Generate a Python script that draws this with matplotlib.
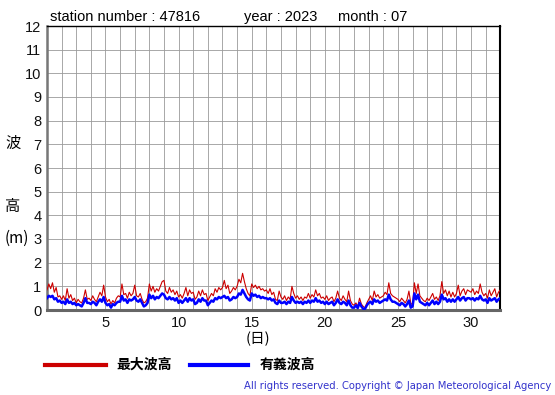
import numpy as np
import matplotlib
matplotlib.use("Agg")
import matplotlib.pyplot as plt
from matplotlib.lines import Line2D

# ---- data (3-hourly readings, July 2023) ----
station = "47816"
year = "2023"
month = "07"
step_hours = 3

max_wave = [
    0.85, 1.1, 0.9, 1.15, 0.75, 0.95, 0.55, 0.6,
    0.45, 0.6, 0.4, 0.9, 0.5, 0.65, 0.4, 0.5,
    0.3, 0.45, 0.35, 0.3, 0.5, 0.85, 0.45, 0.5,
    0.4, 0.6, 0.45, 0.35, 0.55, 0.75, 0.6, 1.05,
    0.55, 0.35, 0.45, 0.25, 0.4, 0.3, 0.5, 0.6,
    0.55, 1.1, 0.65, 0.7, 0.5, 0.75, 0.6, 0.7,
    1.05, 0.6, 0.55, 0.7, 0.45, 0.3, 0.35, 0.5,
    1.1, 0.8, 1.0, 0.75, 0.9, 0.8, 1.0, 1.2,
    1.25, 0.8, 0.7, 0.95, 0.75, 0.85, 0.65, 0.8,
    0.55, 0.65, 0.5, 0.7, 0.95, 0.6, 0.85, 0.7,
    0.75, 0.45, 0.55, 0.8, 0.6, 0.85, 0.65, 0.7,
    0.4, 0.55, 0.7, 0.6, 0.9, 0.75, 0.95, 0.85,
    0.95, 1.25, 0.9, 1.05, 0.7, 0.8, 0.95, 0.85,
    1.0, 1.3, 1.15, 1.55, 1.2, 0.9, 0.7, 0.6,
    1.1, 0.95, 1.05, 0.9, 1.0, 0.85, 0.9, 0.8,
    0.85, 0.7, 0.9, 0.65, 0.75, 0.45, 0.4, 0.8,
    0.55, 0.45, 0.6, 0.4, 0.55, 0.45, 1.0, 0.7,
    0.5, 0.6, 0.45, 0.55, 0.4, 0.55, 0.5, 0.7,
    0.5, 0.65, 0.55, 0.85, 0.6, 0.7, 0.5, 0.55,
    0.45, 0.6, 0.4, 0.5, 0.55, 0.35, 0.5, 0.8,
    0.5, 0.4, 0.6, 0.45, 0.35, 0.8, 0.4, 0.25,
    0.2, 0.3, 0.15, 0.5, 0.25, 0.15, 0.1, 0.3,
    0.45, 0.6, 0.4, 0.8, 0.55, 0.65, 0.5, 0.55,
    0.6, 0.75, 0.65, 1.15, 0.7, 0.6, 0.55, 0.5,
    0.45, 0.35, 0.5, 0.4, 0.3, 0.45, 0.8, 0.3,
    0.2, 1.15, 0.7, 1.1, 0.6, 0.5, 0.4, 0.35,
    0.5, 0.4, 0.55, 0.7, 0.45, 0.55, 0.4, 0.6,
    1.2, 0.7, 0.85, 0.6, 0.8, 0.55, 0.75, 0.55,
    0.7, 1.05, 0.6, 0.8, 0.9, 0.65, 0.85, 0.8,
    0.75, 0.9, 0.65, 0.8, 0.7, 1.1, 0.75, 0.6,
    0.7, 0.5, 0.85, 0.6, 0.75, 0.9, 0.55, 0.75,
    0.85,
]

sig_wave = [
    0.5, 0.6, 0.55, 0.6, 0.45, 0.5, 0.35, 0.4,
    0.3, 0.35, 0.25, 0.45, 0.3, 0.35, 0.25, 0.3,
    0.2, 0.25, 0.2, 0.15, 0.3, 0.5, 0.3, 0.3,
    0.25, 0.35, 0.3, 0.2, 0.35, 0.45, 0.35, 0.55,
    0.3, 0.2, 0.25, 0.1, 0.25, 0.2, 0.3, 0.35,
    0.35, 0.6, 0.4, 0.45, 0.3, 0.45, 0.4, 0.45,
    0.55, 0.4, 0.35, 0.45, 0.3, 0.15, 0.2, 0.3,
    0.65, 0.5, 0.6, 0.45, 0.55, 0.5, 0.6, 0.7,
    0.65, 0.5, 0.45, 0.55, 0.45, 0.5, 0.4, 0.5,
    0.3, 0.4, 0.3, 0.4, 0.5, 0.35, 0.5, 0.4,
    0.45, 0.25, 0.3, 0.45, 0.35, 0.5, 0.4, 0.4,
    0.2, 0.3, 0.4, 0.35, 0.5, 0.45, 0.55, 0.5,
    0.55, 0.6, 0.5, 0.55, 0.4, 0.45, 0.55, 0.5,
    0.55, 0.7, 0.65, 0.85, 0.7, 0.55, 0.45, 0.4,
    0.7, 0.6, 0.65, 0.55, 0.6, 0.5, 0.55, 0.5,
    0.5, 0.45, 0.5, 0.4, 0.45, 0.3, 0.25, 0.4,
    0.3, 0.3, 0.35, 0.25, 0.35, 0.3, 0.55, 0.4,
    0.3, 0.35, 0.3, 0.35, 0.25, 0.35, 0.3, 0.4,
    0.3, 0.4, 0.35, 0.5, 0.35, 0.4, 0.3, 0.35,
    0.25, 0.35, 0.25, 0.3, 0.35, 0.2, 0.3, 0.45,
    0.3, 0.25, 0.35, 0.3, 0.2, 0.4, 0.2, 0.1,
    0.1, 0.2, 0.08, 0.3, 0.15, 0.05, 0.05, 0.2,
    0.3, 0.35, 0.25, 0.45, 0.35, 0.4, 0.3, 0.35,
    0.4, 0.45, 0.4, 0.65, 0.45, 0.35, 0.35, 0.3,
    0.25, 0.2, 0.3, 0.25, 0.15, 0.25, 0.4, 0.1,
    0.15, 0.7, 0.45, 0.65, 0.35, 0.3, 0.25, 0.2,
    0.3, 0.2, 0.3, 0.4, 0.25, 0.35, 0.25, 0.35,
    0.65, 0.45, 0.5, 0.35, 0.45, 0.35, 0.45, 0.35,
    0.45, 0.55, 0.4, 0.5, 0.55, 0.4, 0.5, 0.5,
    0.45, 0.5, 0.4, 0.5, 0.45, 0.6, 0.45, 0.4,
    0.45, 0.3, 0.5, 0.4, 0.45, 0.5, 0.35, 0.45,
    0.5,
]

x_ticks = [5, 10, 15, 20, 25, 30]
y_ticks = list(range(0, 13))
legend_labels = ["最大波高", "有義波高"]
ylabel_chars = ["波", "高", "(m)"]
xlabel = "(日)"
copyright_text = "All rights reserved. Copyright © Japan Meteorological Agency"

RED = "#cc0000"
BLUE = "#0000ff"
CJK = ["Noto Sans CJK JP", "DejaVu Sans"]
LAT = ["Liberation Sans", "DejaVu Sans"]

days = 1 + np.arange(len(max_wave)) * step_hours / 24.0

W, H = 555, 395
fig = plt.figure(figsize=(W / 100, H / 100), dpi=100)
ax = fig.add_axes([47 / W, 1 - 310 / H, (500.3 - 47) / W, (310 - 26) / H])

ax.plot(days, max_wave, color=RED, lw=0.8, zorder=3)
ax.plot(days, sig_wave, color=BLUE, lw=1.8, zorder=4)

ax.set_xlim(1, 32)
ax.set_ylim(0, 12)
ax.set_xticks(x_ticks)
ax.set_xticks(np.arange(1, 33), minor=True)
ax.set_yticks(y_ticks)
ax.grid(which="both", axis="x", color="#9a9a9a", lw=0.6)
ax.grid(which="major", axis="y", color="#9a9a9a", lw=0.6)
ax.tick_params(which="both", length=0)
ax.tick_params(axis="y", pad=4)
ax.tick_params(axis="x", pad=4)
for lab in ax.get_xticklabels() + ax.get_yticklabels():
    lab.set_fontfamily(LAT)
    lab.set_fontsize(10.5)
    lab.set_color("#111111")

ax.spines["left"].set_color("#777777")
ax.spines["left"].set_linewidth(1.8)
ax.spines["bottom"].set_color("#666666")
ax.spines["bottom"].set_linewidth(2.2)
ax.spines["top"].set_color("black")
ax.spines["right"].set_color("black")
ax.spines["top"].set_linewidth(1.0)
ax.spines["right"].set_linewidth(1.5)
ax.set_axisbelow(True)

def fx(px):
    return px / W

def fy(py):
    return 1 - py / H

# title pieces
fig.text(fx(50), fy(21), f"station number : {station}", family=LAT, fontsize=10.5, va="baseline", ha="left")
fig.text(fx(244), fy(21), f"year : {year}", family=LAT, fontsize=10.5, va="baseline", ha="left")
fig.text(fx(338), fy(21), f"month : {month}", family=LAT, fontsize=10.5, va="baseline", ha="left")

# vertical y label
fig.text(fx(13), fy(143), ylabel_chars[0], family=CJK, fontsize=11, ha="center", va="center")
fig.text(fx(13), fy(206), ylabel_chars[1], family=CJK, fontsize=11, ha="center", va="center")
fig.text(fx(17), fy(238), ylabel_chars[2], family=CJK, fontsize=11, ha="center", va="center")

# x label
fig.text(fx(258), fy(339), xlabel, family=CJK, fontsize=10.5, ha="center", va="center")

# legend
fig.add_artist(Line2D([fx(45), fx(106)], [fy(365), fy(365)], color=RED, lw=3.0))
fig.text(fx(116), fy(365), legend_labels[0], family=CJK, fontsize=10, fontweight="bold", ha="left", va="center")
fig.add_artist(Line2D([fx(190), fx(248)], [fy(365), fy(365)], color=BLUE, lw=3.0))
fig.text(fx(260), fy(365), legend_labels[1], family=CJK, fontsize=10, fontweight="bold", ha="left", va="center")

fig.text(fx(551), fy(386), copyright_text, family=["DejaVu Sans"], fontsize=7.2,
         color="#3333cc", ha="right", va="center")

fig.savefig("out.png", dpi=100)
